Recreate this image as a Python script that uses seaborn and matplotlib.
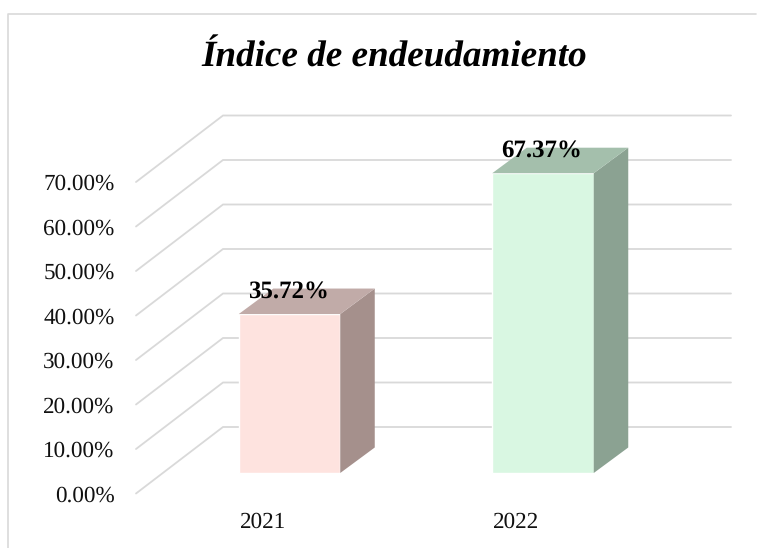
import matplotlib
matplotlib.use('Agg')
import matplotlib.pyplot as plt
from matplotlib.lines import Line2D
import seaborn as sns

years = ['2021', '2022']
values = [35.72, 67.37]
value_labels = ['35.72%', '67.37%']
grid_values = [0, 10, 20, 30, 40, 50, 60, 70]
grid_labels = ['0.00%', '10.00%', '20.00%', '30.00%', '40.00%', '50.00%', '60.00%', '70.00%']
front_colors = ['#FEE3DF', '#D9F7E2']
side_colors = ['#A5908C', '#8BA292']
top_colors = ['#C1ABA8', '#A4BFAC']

W, H = 766, 548
sns.set_theme(style='white')
plt.rcParams['font.family'] = ['Liberation Serif', 'DejaVu Serif']
plt.rcParams['text.hinting'] = 'no_hinting'

fig = plt.figure(figsize=(W / 100, H / 100), dpi=100)
# plot area in pixels: left 136, right 731, top 116, bottom 493.5
ax = fig.add_axes([136 / W, 1 - 493.5 / H, (731 - 136) / W, (493.5 - 116) / H])

# scales: one category = 253.5 px, one percent = 4.45 px, bar floor at y=473 px
px_x = 253.5
px_y = 4.45
ax_x0 = -(289.5 - 136) / px_x
ax_x1 = (731 - 289.5) / px_x
ax_y0 = -(493.5 - 473) / px_y
ax_y1 = (473 - 116) / px_y

# depth of the box and of the bar
wall_dx, wall_dy = 87 / px_x, 66.5 / px_y
bar_dx, bar_dy = 34.5 / px_x, 25.5 / px_y
bar_w = 101.5 / px_x

# back wall grid, front plane tick is at the axes floor
for v in grid_values:
    y_front = ax_y0 + v
    ax.plot([ax_x0, ax_x0 + wall_dx, ax_x1], [y_front, y_front + wall_dy, y_front + wall_dy],
            color='#D9D9D9', lw=1.3, zorder=1, solid_joinstyle='miter', clip_on=False)

sns.barplot(x=years, y=values, hue=years, palette=front_colors, saturation=1, width=bar_w,
            legend=False, ax=ax, zorder=3)

# 3d sides of the bars
for i, v in enumerate(values):
    r = i + bar_w / 2
    l = i - bar_w / 2
    ax.fill([r, r + bar_dx, r + bar_dx, r], [0, bar_dy, v + bar_dy, v], color=side_colors[i], lw=0, zorder=3)
    ax.fill([l, r, r + bar_dx, l + bar_dx], [v, v, v + bar_dy, v + bar_dy], color=top_colors[i], lw=0, zorder=3)
    ax.text(l + 0.036, v + bar_dy - 0.7, value_labels[i], ha='left', va='center', fontsize=17.9,
            fontweight='bold', color='black', zorder=4)

ax.set_xlim(ax_x0, ax_x1)
ax.set_ylim(ax_y0, ax_y1)
ax.set_yticks([ax_y0 + v for v in grid_values], grid_labels)
ax.set_xticks([i - 26.5 / px_x for i in range(len(years))], years)
ax.tick_params(axis='y', length=0, pad=15.5, labelsize=16.7, labelcolor='#111111')
ax.tick_params(axis='x', length=0, pad=13, labelsize=16.7, labelcolor='#111111')
ax.set_xlabel('')
ax.set_ylabel('')
sns.despine(ax=ax, left=True, bottom=True)

fig.text(394 / W, 1 - 58 / H, 'Índice de endeudamiento', ha='center', va='center', fontsize=26.7,
         fontweight='bold', fontstyle='italic', color='black')

# chart frame
frame_x = [8 / W, 8 / W, 756 / W]
frame_y = [0, 1 - 14 / H, 1 - 14 / H]
fig.add_artist(Line2D(frame_x, frame_y, color='#D9D9D9', lw=1.2))

fig.savefig('out.png', dpi=100)
